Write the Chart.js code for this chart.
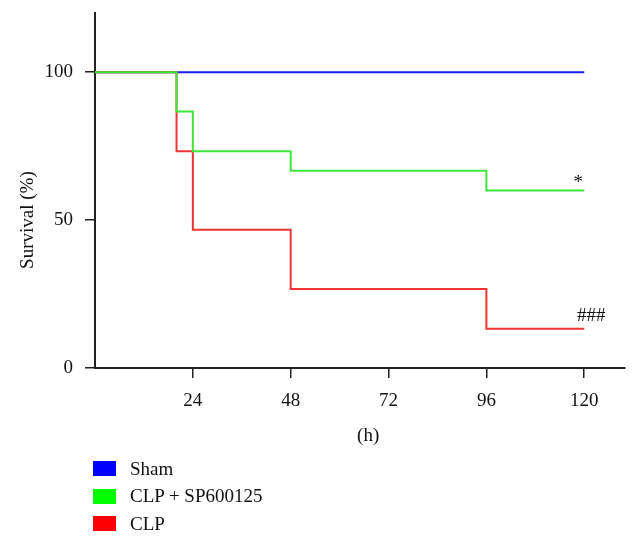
<!DOCTYPE html>
<html>
<head>
<meta charset="utf-8">
<script src="https://cdn.jsdelivr.net/npm/chart.js@4.4.1/dist/chart.umd.min.js"></script>
<style>
  body { margin: 0; background: #fff; }
  #wrap { position: relative; width: 640px; height: 545px; }
  #legend { position: absolute; left: 93px; top: 455px; font-family: 'Liberation Serif', serif; font-size: 19px; color: #111; }
  .item { display: flex; align-items: center; height: 27.5px; }
  .box { width: 23px; height: 15px; margin-right: 14px; }
</style>
</head>
<body>
<div id="wrap">
  <canvas id="survivalChart"></canvas>
  <div id="legend"></div>
</div>
<script>
const hours = [0, 20, 24, 48, 96, 120];
const sham = [100, 100, 100, 100, 100, 100];
const clpSp = [100, 86.7, 73.3, 66.7, 60, 60];
const clp = [100, 73.3, 46.7, 26.7, 13.3, 13.3];
const xTicks = [24, 48, 72, 96, 120];
const yTicks = [0, 50, 100];
const seriesNames = ['Sham', 'CLP + SP600125', 'CLP'];
const seriesColors = ['#0000ff', '#00ff00', '#ff0000'];
const lineColors = ['#1c1cf0', '#3ce83c', '#f03434'];

const font = { family: "'Liberation Serif', serif", size: 19 };
const toPoints = vals => hours.map((h, i) => ({ x: h, y: vals[i] }));

// axis titles and significance marks
const extras = {
    id: 'extras',
    afterDraw(chart) {
        const { ctx, scales: { x, y } } = chart;
        ctx.save();
        ctx.fillStyle = '#111';
        ctx.font = "19px 'Liberation Serif', serif";
        ctx.textAlign = 'center';
        ctx.textBaseline = 'middle';
        ctx.fillText('(h)', x.getPixelForValue(67), 436);
        ctx.fillText('*', x.getPixelForValue(120) - 6, y.getPixelForValue(clpSp[5]) - 7);
        ctx.fillText('###', x.getPixelForValue(120) + 7, y.getPixelForValue(clp[5]) - 13);
        ctx.translate(28, y.getPixelForValue(50));
        ctx.rotate(-Math.PI / 2);
        ctx.fillText('Survival (%)', 0, 0);
        ctx.restore();
    }
};

const ctx = document.getElementById('survivalChart').getContext('2d');
new Chart(ctx, {
    type: 'line',
    data: {
        datasets: [sham, clpSp, clp].map((vals, i) => ({
            label: seriesNames[i],
            data: toPoints(vals),
            borderColor: lineColors[i],
            borderWidth: 2,
            stepped: 'before',
            pointRadius: 0,
            fill: false,
            order: [3, 1, 2][i]
        }))
    },
    options: {
        responsive: true,
        maintainAspectRatio: false,
        animation: false,
        layout: { padding: { top: 13, right: 15, bottom: 95, left: 0 } },
        plugins: { legend: { display: false }, tooltip: { enabled: false } },
        scales: {
            x: {
                type: 'linear',
                min: 0,
                max: 130,
                afterBuildTicks: s => { s.ticks = xTicks.map(v => ({ value: v })); },
                afterFit: s => { s.height = 82; s.paddingLeft = 0; s.paddingRight = 0; },
                grid: { drawOnChartArea: false, drawTicks: true, tickLength: 10, color: '#222', lineWidth: 1.5 },
                border: { color: '#222', width: 2 },
                ticks: { font, color: '#111', padding: 12, maxRotation: 0 }
            },
            y: {
                min: 0,
                max: 120,
                afterBuildTicks: s => { s.ticks = yTicks.map(v => ({ value: v })); },
                afterFit: s => { s.width = 95; s.paddingTop = 0; s.paddingBottom = 0; },
                grid: { drawOnChartArea: false, drawTicks: true, tickLength: 10, color: '#222', lineWidth: 1.5 },
                border: { color: '#222', width: 2 },
                ticks: { font, color: '#111', padding: 12 }
            }
        }
    },
    plugins: [extras]
});

const legend = document.getElementById('legend');
seriesNames.forEach((name, i) => {
    legend.insertAdjacentHTML('beforeend',
        `<div class="item"><span class="box" style="background:${seriesColors[i]}"></span>${name}</div>`);
});
</script>
</body>
</html>
